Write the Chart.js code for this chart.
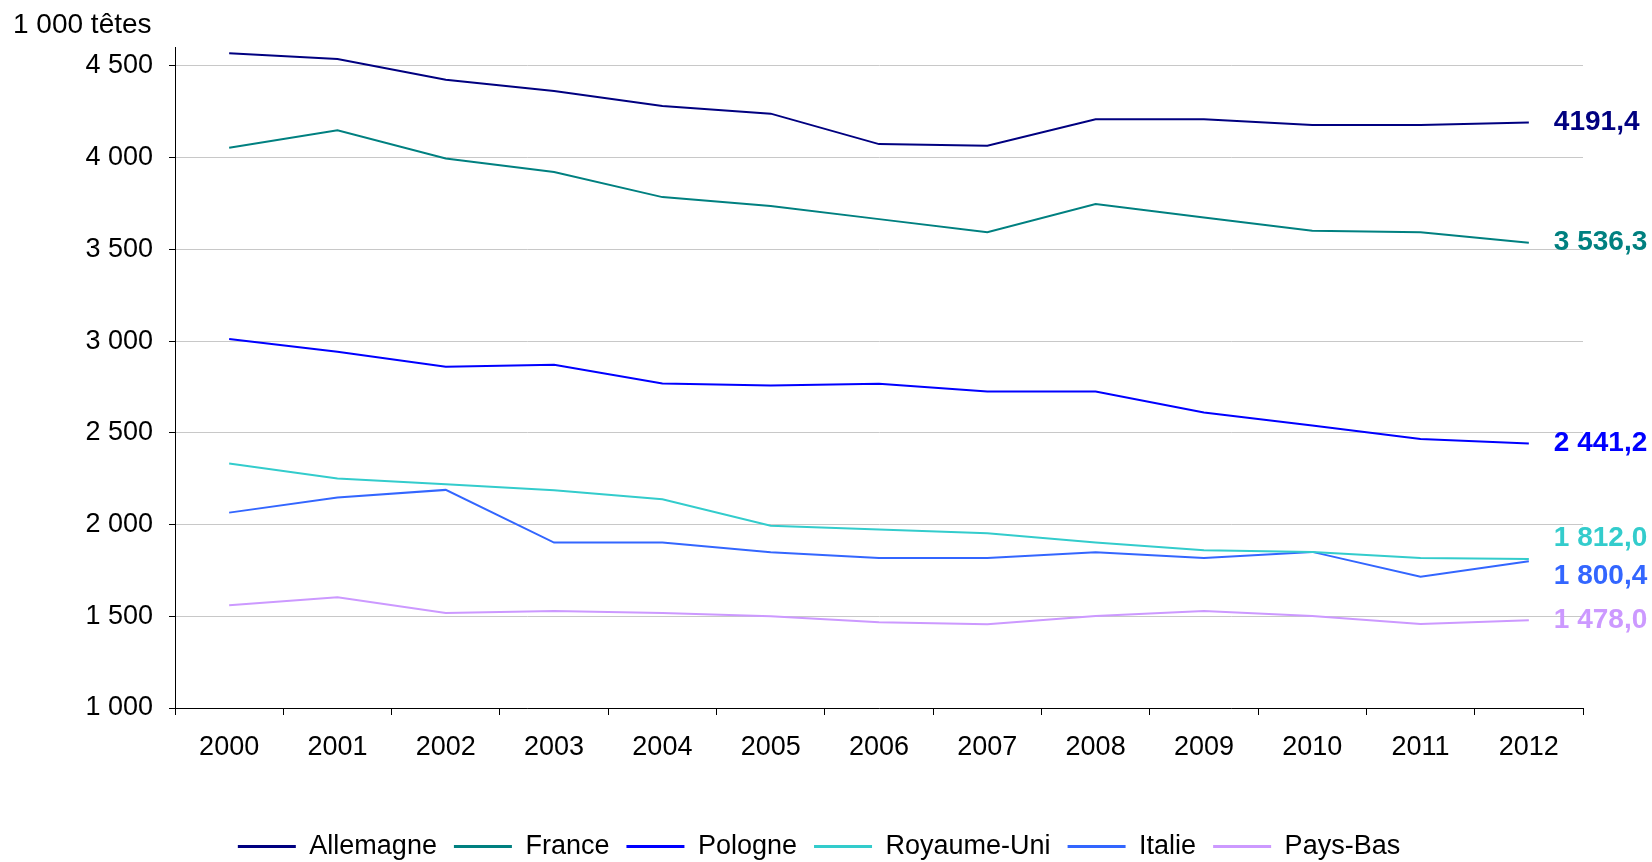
<!DOCTYPE html>
<html>
<head>
<meta charset="utf-8">
<script src="https://cdn.jsdelivr.net/npm/chart.js@4/dist/chart.umd.min.js"></script>
<style>
  html, body { margin: 0; padding: 0; background: #fff; }
  #wrap { width: 1652px; height: 862px; position: relative; }
</style>
</head>
<body>
<div id="wrap"><canvas id="c"></canvas></div>
<script>
const years = ['2000','2001','2002','2003','2004','2005','2006','2007','2008','2009','2010','2011','2012'];
const allemagne  = [4569, 4538, 4425, 4364, 4282, 4240, 4074, 4065, 4209, 4209, 4178, 4178, 4191.4];
const france     = [4054, 4149, 3995, 3922, 3785, 3736, 3665, 3593, 3747, 3674, 3602, 3593, 3536.3];
const pologne    = [3011, 2942, 2860, 2871, 2769, 2758, 2767, 2725, 2725, 2611, 2540, 2467, 2441.2];
const royaumeUni = [2333, 2251, 2220, 2187, 2138, 1993, 1973, 1953, 1902, 1860, 1851, 1818, 1812.0];
const italie     = [2065, 2147, 2189, 1902, 1902, 1849, 1818, 1818, 1849, 1818, 1851, 1716, 1800.4];
const paysBas    = [1560, 1604, 1518, 1529, 1518, 1500, 1467, 1456, 1502, 1529, 1502, 1458, 1478.0];
const seriesNames = ['Allemagne', 'France', 'Pologne', 'Royaume-Uni', 'Italie', 'Pays-Bas'];
const endLabels = ['4191,4', '3 536,3', '2 441,2', '1 812,0', '1 800,4', '1 478,0'];
const yTicks = [1000, 1500, 2000, 2500, 3000, 3500, 4000, 4500];
const unitLabel = '1 000 têtes';

const colors = ['#000080', '#008080', '#0000FF', '#33CCCC', '#3366FF', '#CC99FF'];
const endLabelDy = [0, 0, 0, -21, 15, 0];
const FONT = "'Liberation Sans', Arial, sans-serif";

const seriesData = [allemagne, france, pologne, royaumeUni, italie, paysBas];

const endLabelPlugin = {
  id: 'endLabels',
  afterDatasetsDraw(chart) {
    const ctx = chart.ctx;
    ctx.save();
    ctx.font = 'bold 28px ' + FONT;
    ctx.textAlign = 'left';
    ctx.textBaseline = 'middle';
    chart.data.datasets.forEach((ds, i) => {
      const meta = chart.getDatasetMeta(i);
      const pt = meta.data[meta.data.length - 1];
      ctx.fillStyle = colors[i];
      ctx.fillText(endLabels[i], pt.x + 25, pt.y + endLabelDy[i]);
    });
    ctx.restore();
  }
};

const legendShift = {
  id: 'legendShift',
  afterLayout(chart) {
    const lg = chart.legend;
    if (!lg) return;
    lg.top += 8; lg.bottom += 8;
    lg.left += 21; lg.right += 21;
  }
};

new Chart(document.getElementById('c'), {
  type: 'line',
  data: {
    labels: years,
    datasets: seriesData.map((d, i) => ({
      label: seriesNames[i],
      data: d,
      borderColor: colors[i],
      backgroundColor: colors[i],
      borderWidth: 2,
      pointRadius: 0,
      pointHoverRadius: 0,
      tension: 0,
      fill: false
    }))
  },
  options: {
    responsive: true,
    maintainAspectRatio: false,
    animation: false,
    layout: { padding: { left: 13, right: 69, top: 0, bottom: 0 } },
    plugins: {
      title: {
        display: true,
        text: unitLabel,
        align: 'start',
        color: '#000',
        font: { family: FONT, size: 28, weight: 'normal' },
        padding: { top: 8, bottom: 6 }
      },
      legend: {
        position: 'bottom',
        labels: {
          color: '#000',
          font: { family: FONT, size: 27 },
          boxWidth: 58,
          boxHeight: 3,
          padding: 17,
          generateLabels(chart) {
            return chart.data.datasets.map((ds, i) => ({
              text: ds.label,
              fillStyle: colors[i],
              strokeStyle: colors[i],
              lineWidth: 0,
              hidden: false,
              datasetIndex: i,
              fontColor: '#000'
            }));
          }
        }
      },
      tooltip: { enabled: false }
    },
    scales: {
      x: {
        type: 'category',
        offset: true,
        grid: {
          offset: true,
          drawOnChartArea: false,
          drawTicks: true,
          tickLength: 7,
          tickColor: '#000',
          color: '#000'
        },
        border: { display: true, color: '#000', width: 1 },
        ticks: {
          color: '#000',
          font: { family: FONT, size: 27 },
          padding: 16,
          maxRotation: 0,
          autoSkip: false
        },
        afterFit(scale) { scale.height = 100; }
      },
      y: {
        min: 1000,
        max: 4600,
        grid: {
          color: '#c8c8c8',
          lineWidth: 1,
          drawTicks: true,
          tickLength: 6,
          tickColor: '#000'
        },
        border: { display: true, color: '#000', width: 1 },
        ticks: {
          stepSize: 500,
          color: '#000',
          font: { family: FONT, size: 27 },
          padding: 16,
          callback: v => String(v).replace(/\B(?=(\d{3})+(?!\d))/g, ' ')
        },
        afterBuildTicks(scale) {
          scale.ticks = yTicks.map(v => ({ value: v }));
        },
        afterFit(scale) { scale.width = 162; }
      }
    }
  },
  plugins: [endLabelPlugin, legendShift]
});
</script>
</body>
</html>
